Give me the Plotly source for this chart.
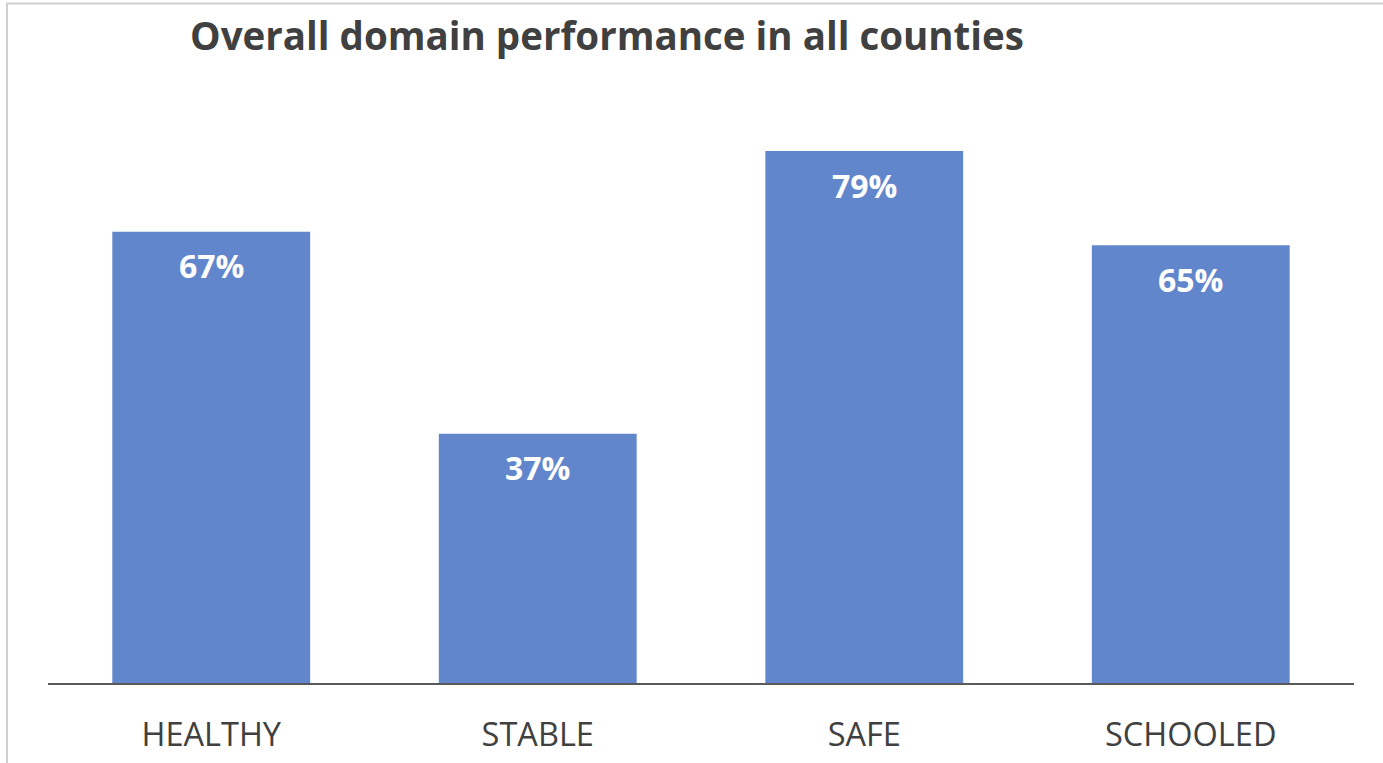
import plotly.graph_objects as go

categories = ["HEALTHY", "STABLE", "SAFE", "SCHOOLED"]
values = [67, 37, 79, 65]
labels = ["67%", "37%", "79%", "65%"]

W, H = 1383, 763
ml, mr, mt, mb = 48, 29, 77, 80
ymax = 90

fig = go.Figure()
fig.add_trace(go.Bar(
    x=categories, y=values,
    marker=dict(color="#6186CC", line=dict(width=0)),
    width=0.606,
    hoverinfo="skip",
))

for c, v, t in zip(categories, values, labels):
    fig.add_annotation(x=c, y=v, text="<b>%s</b>" % t, showarrow=False,
                       yanchor="middle", yshift=-34,
                       font=dict(family="Open Sans", size=32, color="white"))

ph = H - mt - mb
pw = W - ml - mr
fig.add_shape(type="rect", xref="paper", yref="paper",
              x0=(7 - ml) / pw, x1=1.2, y0=-0.5, y1=(683 - 3.5) / ph,
              line=dict(color="#CFCFCF", width=2), fillcolor="rgba(0,0,0,0)", layer="below")

fig.update_layout(
    width=W, height=H,
    margin=dict(l=ml, r=mr, t=mt, b=mb),
    paper_bgcolor="white", plot_bgcolor="white",
    showlegend=False,
    title=dict(text="<b>Overall domain performance in all counties</b>",
               x=607 / W, xanchor="center", y=1 - 37 / H, yanchor="middle",
               font=dict(family="Open Sans", size=38.5, color="#404040")),
    xaxis=dict(showline=True, linecolor="#595959", linewidth=2,
               ticks="outside", ticklen=22, tickcolor="rgba(0,0,0,0)",
               tickfont=dict(family="Open Sans", size=32.5, color="#404040"),
               showgrid=False, zeroline=False, automargin=False),
    yaxis=dict(range=[0, ymax], visible=False, showgrid=False, zeroline=False,
               automargin=False),
)

fig.write_html("out.html",
               config={"displayModeBar": False},
               post_script="document.body.style.margin='0';document.body.style.overflow='hidden';")
